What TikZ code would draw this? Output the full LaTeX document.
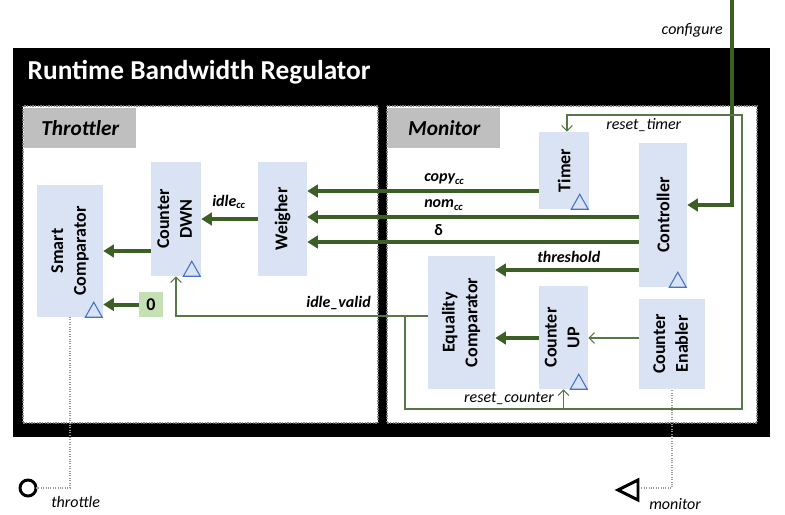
\documentclass[tikz,border=0pt]{standalone}
\usepackage{fontspec}
\setmainfont{Carlito}
\usetikzlibrary{arrows.meta}

\definecolor{blk}{HTML}{DAE3F3}
\definecolor{bus}{HTML}{3B5F25}
\definecolor{clk}{HTML}{4472C4}
\definecolor{lbl}{HTML}{BFBFBF}
\definecolor{cst}{HTML}{C5E0B4}

\newdimen\px \px=0.75pt

\tikzset{
	block/.style={fill=blk, inner sep=0pt, font=\fontsize{13.5}{17}\selectfont\bfseries, align=center},
	panel/.style={fill=white, draw=gray, densely dotted, line width=1pt},
	tag/.style={fill=lbl, inner sep=0pt, minimum width=112\px, minimum height=40\px, font=\fontsize{16}{18}\selectfont\bfseries\itshape},
	bus/.style={draw=bus, line width=3pt, -{Triangle[length=8pt,width=9.5pt]}},
	wire/.style={draw=bus!85!white, line width=0.9pt},
	wirearr/.style={wire, -{Straight Barb[length=4pt,width=8pt]}},
	sig/.style={font=\fontsize{12}{14}\selectfont\bfseries\itshape, inner sep=0pt},
	note/.style={font=\fontsize{12}{14}\selectfont\itshape, inner sep=0pt},
	port/.style={draw=gray!80, densely dotted, line width=0.8pt}
}

% tam giác xung nhịp ở góc dưới phải khối
\newcommand{\clock}[1]{\draw[clk, line width=0.8pt] ([xshift=-18\px]#1.south east) -- ++(8.5,-15) -- ([xshift=-1\px]#1.south east) -- cycle;}

\begin{document}
\begin{tikzpicture}[x=0.75pt, y=-0.75pt]
	\useasboundingbox (0,0) rectangle (785,514);

	% khung ngoài và hai phân hệ
	\fill[black] (13,48) rectangle (770,437);
	\node[anchor=west, text=white, font=\fontsize{20.5}{24}\selectfont\bfseries] (title) at (23,72) {Runtime Bandwidth Regulator};
	\draw[panel] (23,106) rectangle (378,423);
	\draw[panel] (387,106) rectangle (757,423);
	\node[tag, anchor=north west] (thr) at (24,108) {Throttler};
	\node[tag, anchor=north west] (mon) at (388,108) {Monitor};

	% các khối chức năng
	\node[block, minimum width=66\px, minimum height=132\px] (scmp) at (70,251) {\rotatebox{90}{\begin{tabular}{c}Smart\\Comparator\end{tabular}}};
	\node[block, minimum width=50\px, minimum height=114\px] (cdwn) at (176,219) {\rotatebox{90}{\begin{tabular}{c}Counter\\DWN\end{tabular}}};
	\node[block, minimum width=49\px, minimum height=114\px] (wgh) at (282.5,219) {\rotatebox{90}{Weigher}};
	\node[block, minimum width=50\px, minimum height=77\px] (tmr) at (564,170.5) {\rotatebox{90}{Timer}};
	\node[block, minimum width=48\px, minimum height=144\px] (ctrl) at (663,215) {\rotatebox{90}{Controller}};
	\node[block, minimum width=67\px, minimum height=133\px] (eqc) at (461.5,322.5) {\rotatebox{90}{\begin{tabular}{c}Equality\\Comparator\end{tabular}}};
	\node[block, minimum width=49\px, minimum height=103\px] (cup) at (563.5,337.5) {\rotatebox{90}{\begin{tabular}{c}Counter\\UP\end{tabular}}};
	\node[block, minimum width=66\px, minimum height=90\px] (cen) at (672,344) {\rotatebox{90}{\begin{tabular}{c}Counter\\Enabler\end{tabular}}};
	\node[block, fill=cst, minimum width=24\px, minimum height=25\px] (zero) at (151,304.5) {0};

	\clock{scmp}
	\clock{cdwn}
	\clock{tmr}
	\clock{ctrl}
	\clock{cup}

	% mức của các đường tín hiệu
	\coordinate (lcopy) at (0,191);
	\coordinate (lnom) at (0,217);
	\coordinate (ldelta) at (0,242);
	\coordinate (lthr) at (0,270);
	\coordinate (lcnt) at (0,251);
	\coordinate (lup) at (0,338);
	\coordinate (lcfg) at (0,205);
	\coordinate (lval) at (0,316);

	% bus dữ liệu
	\draw[bus] (tmr.west |- lcopy) -- (wgh.east |- lcopy);
	\draw[bus] (ctrl.west |- lnom) -- (wgh.east |- lnom);
	\draw[bus] (ctrl.west |- ldelta) -- (wgh.east |- ldelta);
	\draw[bus] (ctrl.west |- lthr) -- (eqc.east |- lthr);
	\draw[bus] (wgh.west) -- (cdwn.east);
	\draw[bus] (cdwn.west |- lcnt) -- (scmp.east |- lcnt);
	\draw[bus] (zero.west) -- (scmp.east |- zero);
	\draw[bus] (cup.west |- lup) -- (eqc.east |- lup);
	\coordinate (cfgtop) at (732,0);
	\draw[bus] (cfgtop) |- (ctrl.east |- lcfg);

	% tín hiệu điều khiển
	\draw[wirearr] (cen.west |- lup) -- (cup.east |- lup);
	\draw[wirearr] (eqc.west |- lval) -| (cdwn.south);
	\coordinate (jn) at (405,316);
	\coordinate (br) at (742,409);
	\coordinate (tl) at (567,115);
	\draw[wirearr] (jn) |- (br) |- (tl) -- (tmr.north -| tl);
	\draw[wirearr] (cup.south |- br) -- (cup.south);

	% nhãn tín hiệu
	\node[sig, anchor=west] (copy) at (424,179) {copy\textsubscript{cc}};
	\node[sig, anchor=west] (nom) at (424,205) {nom\textsubscript{cc}};
	\node[sig, anchor=west] (dlt) at (434,230) {\upshape δ};
	\node[sig, anchor=west] (thrl) at (537,257) {threshold};
	\node[sig, anchor=west] (idle) at (212,202) {idle\textsubscript{cc}};
	\node[sig, anchor=east] (ival) at (371,303) {idle\_valid};
	\node[note, anchor=west] (rtmr) at (606,125) {reset\_timer};
	\node[note, anchor=east] (rcnt) at (554,399) {reset\_counter};
	\node[note, anchor=east] (cfg) at (723,30) {configure};

	% cổng vào ra
	\draw[line width=2.2pt] (28,488) circle (8);
	\coordinate (thrp) at (36,488);
	\draw[port] (thrp) -| (scmp.south);
	\node[note, anchor=west] (thrt) at (51,502) {throttle};
	\draw[line width=2.2pt] (618,490) -- (638,480) -- (638,500) -- cycle;
	\coordinate (monp) at (639,488);
	\draw[port] (monp) -| (cen.south);
	\node[note, anchor=west] (mont) at (649,504) {monitor};
\end{tikzpicture}
\end{document}
